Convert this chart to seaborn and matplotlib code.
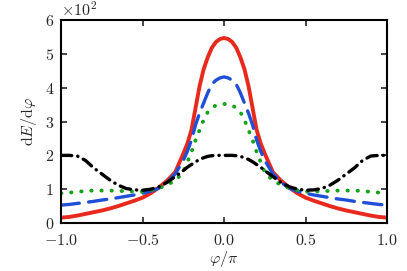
import numpy as np
import pandas as pd
import matplotlib
matplotlib.use("Agg")
import matplotlib.pyplot as plt
import seaborn as sns
from matplotlib.ticker import ScalarFormatter

# --- values (x in units of pi) ---
phi = [-1.00, -0.95, -0.90, -0.85, -0.80, -0.75, -0.70, -0.65, -0.60, -0.55,
       -0.50, -0.45, -0.40, -0.35, -0.30, -0.25, -0.225, -0.20, -0.175, -0.15,
       -0.125, -0.10, -0.075, -0.05, -0.025, 0.00,
       0.025, 0.05, 0.075, 0.10, 0.125, 0.15, 0.175, 0.20, 0.225, 0.25,
       0.30, 0.35, 0.40, 0.45, 0.50, 0.55, 0.60, 0.65, 0.70, 0.75,
       0.80, 0.85, 0.90, 0.95, 1.00]

red = [16, 18, 22, 27, 32, 37, 43, 50, 58, 66,
       75, 88, 105, 125, 150, 205, 235, 275, 340, 405,
       455, 490, 518, 535, 544, 547,
       544, 535, 518, 490, 455, 405, 340, 275, 235, 205,
       150, 125, 105, 88, 75, 66, 58, 50, 43, 37,
       32, 27, 22, 18, 16]

blue = [53, 55, 58, 61, 64, 68, 71, 75, 79, 83,
        88, 94, 103, 120, 145, 185, 212, 245, 290, 325,
        355, 385, 410, 422, 429, 432,
        429, 422, 410, 385, 355, 325, 290, 245, 212, 185,
        145, 120, 103, 94, 88, 83, 79, 75, 71, 68,
        64, 61, 58, 55, 53]

green = [88, 90, 92, 95, 96, 96, 96, 95, 94, 93,
         93, 97, 103, 113, 125, 150, 180, 210, 245, 275,
         305, 328, 340, 348, 351, 352,
         351, 348, 340, 328, 305, 275, 245, 210, 180, 150,
         125, 113, 103, 97, 93, 93, 94, 95, 96, 96,
         96, 95, 92, 90, 88]

black = [200, 200, 198, 185, 163, 145, 127, 112, 102, 98,
         97, 100, 107, 120, 137, 155, 165, 173, 181, 188,
         193, 197, 199, 200, 200, 200,
         200, 200, 199, 197, 193, 188, 181, 173, 165, 155,
         137, 120, 107, 100, 97, 98, 102, 112, 127, 145,
         163, 185, 198, 200, 200]

df = pd.DataFrame({"phi": phi, "red": red, "blue": blue, "green": green, "black": black})

sns.set_style("ticks")
plt.rcParams["font.family"] = "serif"
plt.rcParams["font.serif"] = ["cmr10", "DejaVu Serif"]
plt.rcParams["mathtext.fontset"] = "cm"
plt.rcParams["axes.formatter.use_mathtext"] = True
plt.rcParams["axes.unicode_minus"] = True

fig = plt.figure(figsize=(4.07, 2.71), dpi=100)
ax = fig.add_axes([0.150, 0.177, 0.801, 0.749])

lw = 2.4
sns.lineplot(data=df, x="phi", y="red", ax=ax, color="#e82a1e", linewidth=2.8)
sns.lineplot(data=df, x="phi", y="blue", ax=ax, color="#1f4fd6", linewidth=lw,
             linestyle=(0, (5.5, 2.8)), dash_capstyle="round")
sns.lineplot(data=df, x="phi", y="green", ax=ax, color="#16a31a", linewidth=2.8,
             linestyle=(0, (0.1, 2.5)), dash_capstyle="round")
sns.lineplot(data=df, x="phi", y="black", ax=ax, color="black", linewidth=lw,
             linestyle=(0, (3.2, 1.8, 0.1, 1.8)), dash_capstyle="round")

ax.set_xlim(-1, 1)
ax.set_ylim(0, 600)
ax.set_xticks([-1.0, -0.5, 0.0, 0.5, 1.0])
ax.set_xticklabels([r"$-1.0$", r"$-0.5$", r"$0.0$", r"$0.5$", r"$1.0$"])
ax.set_yticks([0, 100, 200, 300, 400, 500, 600])

fmt = ScalarFormatter(useMathText=True)
fmt.set_powerlimits((0, 0))
ax.yaxis.set_major_formatter(fmt)
ax.yaxis.get_offset_text().set_fontsize(11.5)

ax.tick_params(direction="in", top=True, right=True, length=4, width=1.2,
               labelsize=11.5)
ax.tick_params(axis="x", pad=7)
ax.tick_params(axis="y", pad=5)
for s in ax.spines.values():
    s.set_linewidth(1.5)
    s.set_color("black")

ax.set_xlabel(r"$\varphi/\pi$", fontsize=11.5, labelpad=1)
ax.set_ylabel(r"$\mathrm{d}E/\mathrm{d}\varphi$", fontsize=11.5, labelpad=4)

fig.savefig("out.png", dpi=100)
